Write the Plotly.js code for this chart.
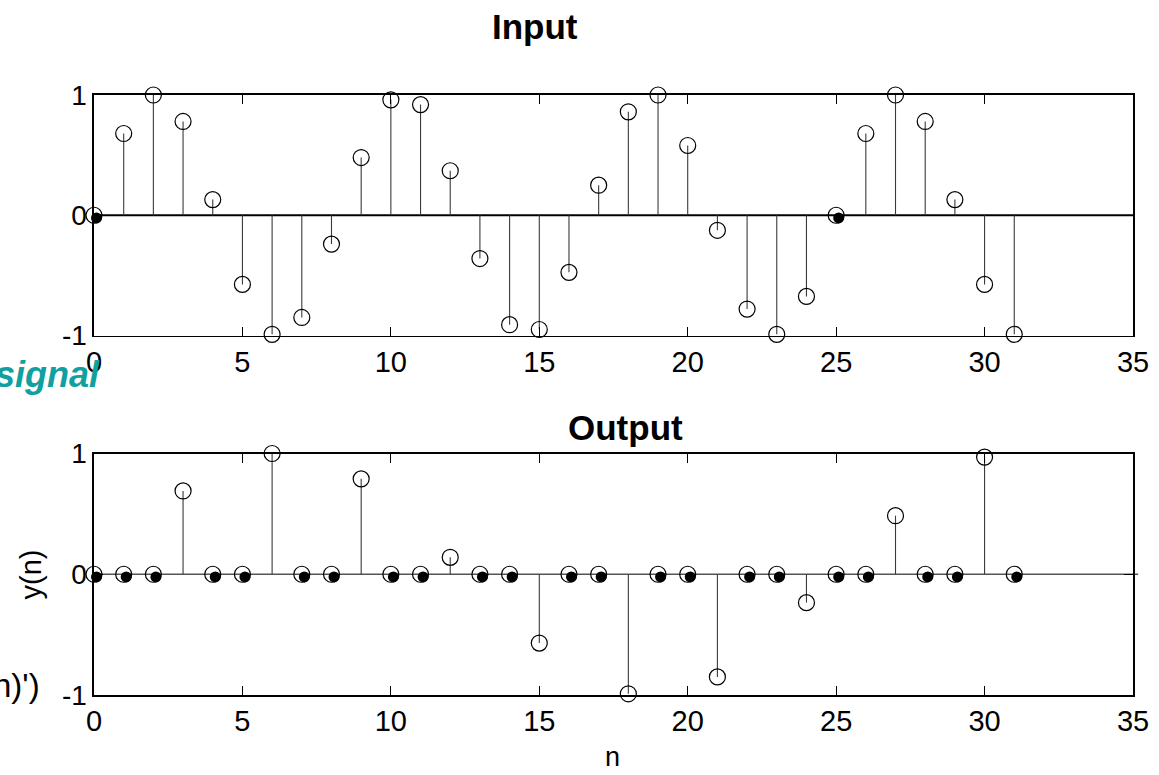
<!DOCTYPE html>
<html>
<head>
<meta charset="utf-8">
<script src="https://cdn.plot.ly/plotly-3.0.1.min.js"></script>
<style>html,body{margin:0;padding:0;background:#fff;}#chart{width:1159px;height:775px;}</style>
</head>
<body>
<div id="chart"></div>
<script>
// ---- data ----
const nInput = [0,1,2,3,4,5,6,7,8,9,10,11,12,13,14,15,16,17,18,19,20,21,22,23,24,25,26,27,28,29,30,31];
const inputValues = [0,0.68,1.0,0.78,0.13,-0.575,-0.99,-0.85,-0.24,0.48,0.96,0.92,0.37,-0.36,-0.91,-0.95,-0.475,0.25,0.86,1.0,0.58,-0.125,-0.78,-0.99,-0.675,0,0.68,1.0,0.78,0.13,-0.575,-0.99];
const nOutput = [0,1,2,3,4,5,6,7,8,9,10,11,12,13,14,15,16,17,18,19,20,21,22,23,24,25,26,27,28,29,30,31];
const outputValues = [0,0,0,0.69,0,0,1.0,0,0,0.79,0,0,0.14,0,0,-0.57,0,0,-0.99,0,0,-0.85,0,0,-0.235,0,0,0.485,0,0,0.97,0];
const xTicks = [0,5,10,15,20,25,30,35];
const yTicks = [-1,0,1];

// ---- helpers ----
function stems(xs, ys){
  const sx=[], sy=[];
  xs.forEach((x,i)=>{ sx.push(x,x,null); sy.push(0,ys[i],null); });
  return {sx, sy};
}
function zeros(xs, ys){
  const zx=[], zy=[];
  xs.forEach((x,i)=>{ if(ys[i]===0){ zx.push(x); zy.push(ys[i]); } });
  return {zx, zy};
}
const FONT = 'Liberation Sans, Arial, Helvetica, sans-serif';
const stemStyle = {color:'#3a3a3a', width:1.1};
const openMarker = {symbol:'circle-open', size:16, color:'#000', line:{width:1.2, color:'#000'}};
const dotMarker = {symbol:'circle', size:11, color:'#000'};

const s1 = stems(nInput, inputValues), z1 = zeros(nInput, inputValues);
const s2 = stems(nOutput, outputValues), z2 = zeros(nOutput, outputValues);

const traces = [
  {x:s1.sx, y:s1.sy, xaxis:'x', yaxis:'y', mode:'lines', line:stemStyle, hoverinfo:'skip', cliponaxis:false},
  {x:nInput, y:inputValues, xaxis:'x', yaxis:'y', mode:'markers', marker:openMarker, cliponaxis:false},
  {x:z1.zx, y:z1.zy, xaxis:'x3', yaxis:'y3', mode:'markers', marker:dotMarker, cliponaxis:false},
  {x:s2.sx, y:s2.sy, xaxis:'x2', yaxis:'y2', mode:'lines', line:stemStyle, hoverinfo:'skip', cliponaxis:false},
  {x:nOutput, y:outputValues, xaxis:'x2', yaxis:'y2', mode:'markers', marker:openMarker, cliponaxis:false},
  {x:z2.zx, y:z2.zy, xaxis:'x4', yaxis:'y4', mode:'markers', marker:dotMarker, cliponaxis:false}
];

const L = 93.5, R = 1133, T = 95, B = 695;
const px = p => (p - L) / (R - L);
const py = p => (B - p) / (B - T);

function xa(extra){
  return Object.assign({
    range:[0,35], tickvals:xTicks, ticktext:xTicks.map(String),
    ticks:'inside', ticklen:9, tickwidth:1, tickcolor:'#000',
    showline:true, linecolor:'#000', linewidth:1.6, mirror:'ticks',
    showgrid:false, zeroline:false,
    tickfont:{family:FONT, size:29, color:'#000'}
  }, extra);
}
function ya(extra){
  return Object.assign({
    range:[-1,1], tickvals:yTicks, ticktext:yTicks.map(String),
    ticks:'inside', ticklen:9, tickwidth:1, tickcolor:'#000',
    showline:true, linecolor:'#000', linewidth:1.6, mirror:'ticks',
    showgrid:false, zeroline:false,
    tickfont:{family:FONT, size:28, color:'#000'}
  }, extra);
}
const dx = 0.085, dy = 0.022;

const layout = {
  width:1159, height:775,
  margin:{l:L, r:1159-R, t:T, b:775-B, pad:0},
  paper_bgcolor:'#fff', plot_bgcolor:'#fff',
  showlegend:false,
  font:{family:FONT, color:'#000'},
  xaxis: xa({domain:[0,1], anchor:'y'}),
  yaxis: ya({domain:[py(335.5),1], anchor:'x'}),
  xaxis2: xa({domain:[0,1], anchor:'y2'}),
  yaxis2: ya({domain:[0,py(453.5)], anchor:'x2'}),
  xaxis3: {overlaying:'x', range:[-dx,35-dx], visible:false, anchor:'y3'},
  yaxis3: {overlaying:'y', range:[-1+dy,1+dy], visible:false, anchor:'x3'},
  xaxis4: {overlaying:'x2', range:[-dx,35-dx], visible:false, anchor:'y4'},
  yaxis4: {overlaying:'y2', range:[-1+dy,1+dy], visible:false, anchor:'x4'},
  shapes:[
    {type:'line', xref:'x domain', yref:'y', x0:0, x1:1, y0:0, y1:0, line:{color:'#000', width:2.2}, layer:'below'},
    {type:'line', xref:'x2 domain', yref:'y2', x0:0, x1:1.005, y0:0, y1:0, line:{color:'#555', width:1.4}, layer:'below'}
  ],
  annotations:[
    {text:'<b>Input</b>', xref:'paper', yref:'paper', x:px(535), y:py(26), xanchor:'center', yanchor:'middle', showarrow:false, font:{family:FONT, size:35, color:'#000'}},
    {text:'<b>Output</b>', xref:'paper', yref:'paper', x:px(625), y:py(428), xanchor:'center', yanchor:'middle', showarrow:false, font:{family:FONT, size:35, color:'#000'}},
    {text:'n', xref:'paper', yref:'paper', x:px(612), y:py(757), xanchor:'center', yanchor:'middle', showarrow:false, font:{family:FONT, size:27, color:'#000'}},
    {text:'y(n)', xref:'paper', yref:'paper', x:px(30), y:py(575), xanchor:'center', yanchor:'middle', textangle:-90, showarrow:false, font:{family:FONT, size:29, color:'#000'}},
    {text:'<b><i>signal</i></b>', xref:'paper', yref:'paper', x:px(102), y:py(374), xanchor:'right', yanchor:'middle', showarrow:false, font:{family:FONT, size:36, color:'#11a0a0'}},
    {text:"ylabel('y(n)')", xref:'paper', yref:'paper', x:px(41), y:py(685), xanchor:'right', yanchor:'middle', showarrow:false, font:{family:FONT, size:33, color:'#000'}}
  ]
};

Plotly.newPlot('chart', traces, layout, {staticPlot:true, displayModeBar:false});
</script>
</body>
</html>
